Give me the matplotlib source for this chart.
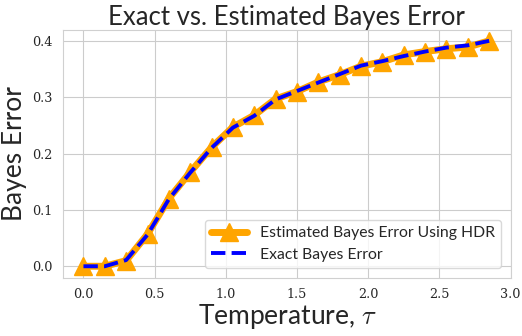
import numpy as np
import matplotlib
matplotlib.use("Agg")
import matplotlib.pyplot as plt
import seaborn as sns

# Temperature values and Bayes error
tau = [0.0, 0.15, 0.30, 0.45, 0.60, 0.75, 0.90, 1.05, 1.20, 1.35,
       1.50, 1.65, 1.80, 1.95, 2.10, 2.25, 2.40, 2.55, 2.70, 2.85]
est_error = [0.000, 0.000, 0.010, 0.057, 0.120, 0.167, 0.211, 0.247, 0.268, 0.297,
             0.310, 0.327, 0.340, 0.355, 0.363, 0.375, 0.381, 0.386, 0.389, 0.400]
exact_error = [0.000, 0.000, 0.011, 0.056, 0.119, 0.166, 0.210, 0.246, 0.267, 0.296,
               0.311, 0.326, 0.341, 0.356, 0.364, 0.373, 0.381, 0.388, 0.392, 0.400]

sns.set_style("whitegrid")
plt.rcParams['font.family'] = ['Lato', 'DejaVu Sans']
plt.rcParams['mathtext.fontset'] = 'cm'

fig = plt.figure(figsize=(5.22, 3.36), dpi=100)
ax = fig.add_axes([0.121, 0.174, 0.857, 0.738])

ax.plot(tau, est_error, color='orange', linewidth=5, marker='^', markersize=13,
        label='Estimated Bayes Error Using HDR')
ax.plot(tau, exact_error, color='blue', linestyle='--', linewidth=2.8,
        label='Exact Bayes Error')

ax.set_title("Exact vs. Estimated Bayes Error", fontsize=18.5, color='#262626', pad=3)
ax.set_xlabel(r"Temperature, $\tau$", fontsize=19, color='#262626', labelpad=1)
ax.set_ylabel("Bayes Error", fontsize=19, color='#262626', labelpad=4)

ax.set_xticks([0.0, 0.5, 1.0, 1.5, 2.0, 2.5, 3.0])
ax.set_yticks([0.0, 0.1, 0.2, 0.3, 0.4])
for lbl in ax.get_xticklabels() + ax.get_yticklabels():
    lbl.set_fontfamily('DejaVu Serif')
    lbl.set_fontsize(9.2)
    lbl.set_color('#262626')
ax.tick_params(axis='both', pad=4)

for sp in ax.spines.values():
    sp.set_color('#d0d0d0')

leg = ax.legend(loc='lower right', fontsize=11.3, frameon=True, handlelength=2.3,
                borderaxespad=0.6)
leg.get_frame().set_edgecolor('#d0d0d0')

plt.savefig("out.png", dpi=100)
print("Saved: out.png")
